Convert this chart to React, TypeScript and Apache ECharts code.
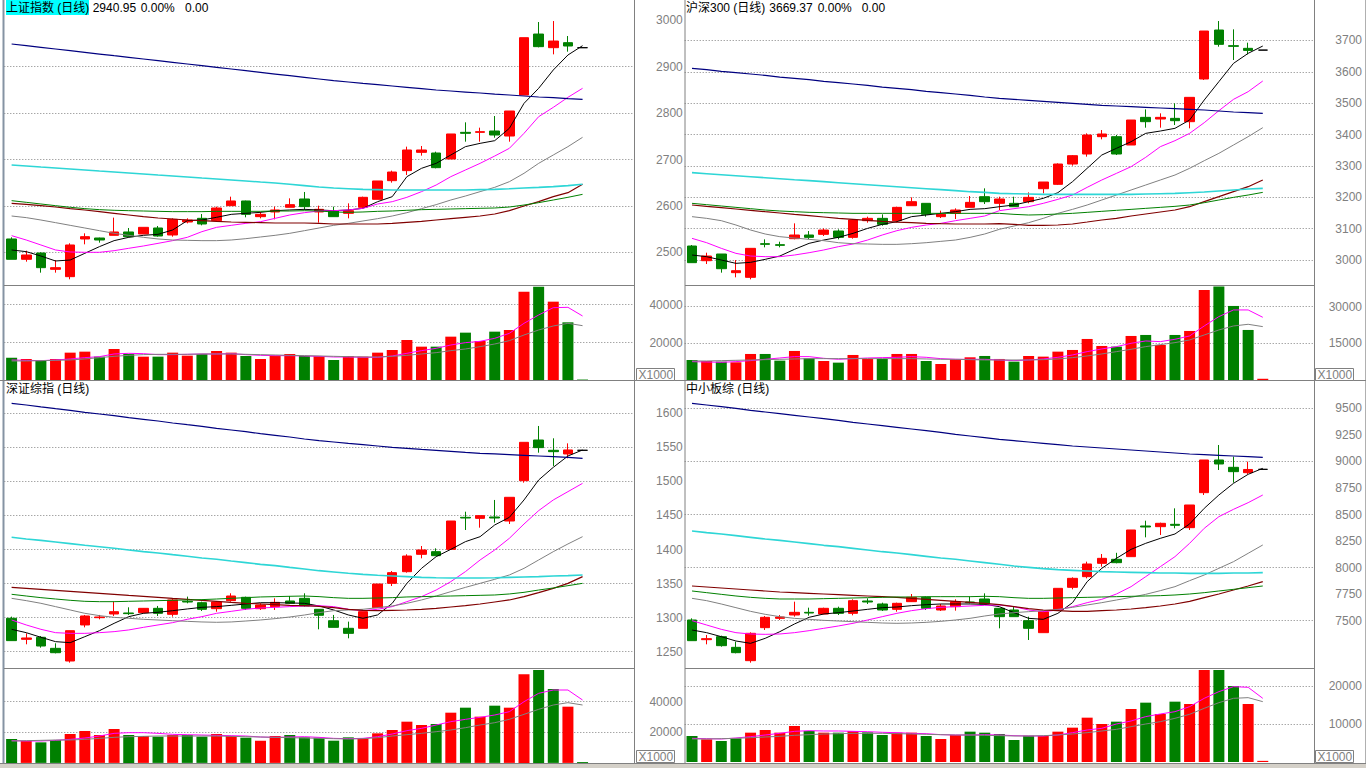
import { useEffect, useRef } from "react";
import * as echarts from "echarts";

const FONT = '"Liberation Sans", Arial, "Noto Sans CJK SC", sans-serif';
const RED = "#ff0000";
const GREEN = "#008000";
const GREY = "#808080";

const SLOT_COUNT = 43;
const CATEGORIES = Array.from({ length: SLOT_COUNT }, (_, i) => `D${i + 1}`);

// ---------- 上证指数 ----------
// [open, close, low, high]
const SH_CANDLES = [
  [2528.7, 2484.9, 2484.9, 2532.3], [2484.9, 2494.2, 2479.8, 2503.5], [2498.5, 2466.9, 2456.1, 2499.9],
  [2463.3, 2466.9, 2456.1, 2483.4], [2447.5, 2515.8, 2441.8, 2519.4], [2528.7, 2533.7, 2517.2, 2540.9],
  [2530.8, 2526.5, 2520.8, 2531.5], [2536.6, 2543.8, 2536.6, 2574.7], [2543.8, 2533.7, 2532.3, 2552.4],
  [2539.5, 2553.8, 2539.5, 2553.8], [2552.4, 2535.1, 2533.7, 2556.7], [2537.3, 2571.0, 2533.7, 2573.2],
  [2565.3, 2569.6, 2562.4, 2573.2], [2573.2, 2561.0, 2558.1, 2582.5], [2568.2, 2595.5, 2566.0, 2598.4],
  [2600.5, 2610.6, 2600.5, 2619.9], [2610.6, 2581.8, 2575.4, 2611.3], [2576.8, 2581.8, 2573.2, 2586.9],
  [2586.9, 2591.2, 2571.0, 2598.4], [2597.0, 2602.7, 2597.0, 2616.3], [2614.9, 2598.4, 2591.2, 2630.0],
  [2586.9, 2592.6, 2563.9, 2600.5], [2589.7, 2576.8, 2576.8, 2598.4], [2584.0, 2589.7, 2573.2, 2605.5],
  [2597.0, 2618.5, 2594.8, 2619.9], [2614.2, 2653.7, 2614.2, 2653.7], [2654.4, 2673.0, 2650.1, 2676.0],
  [2676.0, 2720.5, 2666.6, 2727.7], [2715.4, 2720.5, 2708.3, 2729.1], [2714.0, 2682.4, 2681.0, 2716.9],
  [2701.1, 2755.0, 2701.1, 2755.0], [2758.5, 2756.4, 2738.4, 2780.1], [2758.5, 2760.0, 2738.4, 2768.6],
  [2761.4, 2752.8, 2747.0, 2793.7], [2750.6, 2804.5, 2738.4, 2804.5], [2839.0, 2962.5, 2839.0, 2962.5],
  [2970.4, 2943.2, 2941.7, 2996.3], [2941.0, 2955.3, 2926.6, 2998.4], [2951.8, 2944.6, 2932.4, 2966.1],
  [2940.95, 2940.95, 2940.95, 2940.95],
];
const SH_MA5 = [2505, 2501.4, 2492, 2481.3, 2483.4, 2497.8, 2512.2, 2525.1, 2532.3, 2536.6, 2538.7, 2548.1, 2568.2, 2569.6, 2575.4, 2581.8, 2584, 2586.1, 2589.7, 2591.2, 2592.6, 2591.2, 2589.7, 2591.2, 2594.8, 2609.1, 2619.9, 2663, 2681, 2691.7, 2709.7, 2727.7, 2734.8, 2740.6, 2767.2, 2821, 2853.4, 2892.9, 2925.2, 2945.3];
const SH_MA10 = [2535.9, 2526.5, 2515.8, 2505, 2500.7, 2500, 2500, 2503.5, 2508.6, 2513.6, 2519.3, 2525.1, 2532.3, 2544.5, 2553.8, 2558.1, 2562.4, 2566, 2573.2, 2580.4, 2585.4, 2589, 2589.7, 2591.2, 2594.8, 2604.1, 2609.1, 2618.5, 2630.7, 2645, 2663, 2677.4, 2691.7, 2707.5, 2724.1, 2756.4, 2792.3, 2812.4, 2834, 2853.4];
const SH_MA20 = [2578.2, 2574.7, 2569.6, 2563.9, 2558.1, 2552.4, 2546.6, 2540.9, 2536.6, 2532.3, 2528.7, 2526.5, 2525.8, 2525.1, 2525.1, 2526.5, 2529.4, 2533, 2536.6, 2540.9, 2546.6, 2552.4, 2558.1, 2562.4, 2567.5, 2572.5, 2578.2, 2585.4, 2594.1, 2602.7, 2612.7, 2621.3, 2630.7, 2640, 2652.2, 2670.2, 2691.7, 2709.7, 2727.7, 2747.8];
const SH_MA30 = [2605.5, 2603.4, 2600.5, 2597.6, 2594.1, 2591.2, 2587.6, 2584, 2580.4, 2576.8, 2573.9, 2571.8, 2569.6, 2568.2, 2566.7, 2565.3, 2564.6, 2563.9, 2563.2, 2563.2, 2563.2, 2562.4, 2561, 2561, 2561, 2561, 2562.4, 2564.6, 2566.7, 2569.6, 2572.5, 2575.4, 2578.2, 2582.5, 2589.7, 2599.8, 2609.1, 2619.9, 2628.5, 2646.5];
const SH_MA60 = [2611.3, 2607.7, 2604.1, 2600.5, 2597, 2594.1, 2591.9, 2590.5, 2589.7, 2589, 2588.3, 2587.6, 2587.6, 2587.6, 2588.3, 2588.3, 2588.3, 2588.3, 2589, 2589, 2589.7, 2589, 2586.9, 2586.1, 2586.9, 2588.3, 2589, 2590.5, 2591.9, 2592.6, 2593.3, 2594.1, 2594.8, 2595.5, 2597.6, 2601.9, 2607, 2612.7, 2618.5, 2624.9];
const SH_MA120 = [2688.1, 2686, 2683.8, 2681.7, 2679.5, 2677.4, 2675.2, 2673.1, 2670.9, 2668.8, 2666.6, 2664.5, 2662.3, 2660.1, 2658, 2655.8, 2653.7, 2651.5, 2649.4, 2646.5, 2643.6, 2640.7, 2638.6, 2637.1, 2635.7, 2635, 2634.3, 2634.3, 2634.3, 2634.3, 2634.3, 2634.3, 2635, 2635.7, 2637.1, 2638.6, 2640, 2641.5, 2643.6, 2646.5];
const SH_MA250 = [2948.9, 2945.3, 2941.7, 2938.1, 2934.5, 2930.9, 2927.3, 2923.7, 2920.2, 2916.6, 2913, 2909.4, 2905.8, 2902.2, 2898.6, 2895, 2891.4, 2887.8, 2884.2, 2880.6, 2877.1, 2873.5, 2869.9, 2867, 2864.1, 2861.3, 2858.4, 2855.5, 2852.6, 2849.8, 2847.6, 2845.4, 2843.3, 2841.1, 2839, 2836.8, 2834.7, 2833.2, 2831.1, 2829.6];
const SH_VOLUME = [12027, 11325, 10448, 11325, 14658, 15184, 12553, 16588, 13956, 12553, 12553, 14658, 13080, 13956, 15535, 14658, 12904, 11325, 13080, 13956, 12904, 12904, 10799, 12904, 12553, 14658, 16061, 21323, 17815, 17815, 23077, 25182, 20797, 25708, 26585, 46756, 49387, 41494, 30619, 500];
const SH_VOL_MA5 = [10799, 10624, 10448, 10799, 11325, 12027, 12553, 13956, 14307, 14131, 13605, 13605, 13781, 13956, 13956, 14131, 13605, 13254, 13080, 13080, 12904, 12728, 12378, 12378, 12202, 12202, 12904, 14307, 15710, 16938, 18692, 19920, 20622, 22200, 24831, 30093, 34478, 38337, 38512, 33952];
const SH_VOL_MA10 = [10273, 10273, 10448, 10624, 10799, 11325, 12027, 12728, 13254, 13605, 13781, 13781, 13781, 13956, 13956, 13956, 13781, 13605, 13430, 13254, 13080, 12904, 12728, 12553, 12378, 12378, 12728, 13254, 13956, 14658, 15710, 16588, 17815, 19218, 20972, 23954, 26585, 28690, 30093, 28865];

// ---------- 沪深300 ----------
const HS_CANDLES = [
  [3044.6, 2991.5, 2991.5, 3047.8], [2997.8, 3012.7, 2987.2, 3023.3], [3019.1, 2972.3, 2959.6, 3019.1],
  [2959.6, 2965.9, 2944.7, 2999.9], [2944.7, 3037.2, 2938.3, 3037.2], [3052.0, 3050.0, 3040.4, 3065.9],
  [3048.9, 3046.7, 3040.4, 3058.4], [3068.0, 3079.7, 3065.9, 3116.9], [3079.7, 3072.2, 3066.9, 3092.4],
  [3081.8, 3095.6, 3076.5, 3100.9], [3092.4, 3072.2, 3065.9, 3097.8], [3072.2, 3127.5, 3068.0, 3129.6],
  [3125.4, 3132.8, 3119.0, 3138.2], [3132.8, 3113.7, 3109.4, 3145.6], [3125.4, 3167.9, 3120.1, 3170.0],
  [3173.2, 3186.0, 3173.2, 3199.8], [3180.7, 3145.6, 3138.2, 3180.7], [3138.2, 3145.6, 3133.9, 3157.3],
  [3148.8, 3159.4, 3130.7, 3164.7], [3167.9, 3183.8, 3167.9, 3204.0], [3201.9, 3186.0, 3178.5, 3228.5],
  [3180.7, 3194.5, 3159.4, 3201.9], [3180.7, 3170.0, 3170.0, 3201.9], [3186.0, 3199.8, 3180.7, 3215.7],
  [3227.4, 3248.7, 3212.6, 3248.7], [3241.3, 3306.1, 3239.1, 3308.2], [3306.1, 3332.7, 3300.8, 3334.8],
  [3338.0, 3398.6, 3329.5, 3403.9], [3393.3, 3401.8, 3384.8, 3414.5], [3393.3, 3338.0, 3334.8, 3398.6],
  [3366.7, 3446.4, 3366.7, 3446.4], [3454.9, 3441.1, 3422.0, 3480.4], [3449.6, 3454.9, 3422.0, 3467.7],
  [3451.7, 3444.3, 3430.5, 3499.6], [3441.1, 3518.7, 3419.9, 3518.7], [3577.2, 3730.2, 3574.0, 3730.2],
  [3733.4, 3687.7, 3680.3, 3762.1], [3683.5, 3681.3, 3637.8, 3735.6], [3675.0, 3668.5, 3655.8, 3693.0],
  [3669.37, 3669.37, 3669.37, 3669.37],
];
const HS_MA5 = [3015.9, 3010.6, 3000, 2989.3, 2992.5, 3002.1, 3012.7, 3034, 3053.1, 3063.7, 3072.2, 3085, 3100.9, 3113.7, 3122.2, 3138.2, 3143.5, 3148.8, 3154.1, 3161.5, 3163.7, 3170, 3175.4, 3186, 3196.6, 3214.7, 3249.8, 3292.3, 3334.8, 3356.1, 3377.3, 3403.9, 3411.3, 3419.9, 3446.4, 3510.2, 3568.7, 3627.1, 3659, 3682.4];
const HS_MA10 = [3069, 3055.2, 3037.2, 3021.2, 3012.7, 3010.6, 3010.6, 3015.9, 3023.3, 3031.9, 3042.5, 3051, 3063.7, 3079.7, 3093.5, 3104.1, 3111.6, 3116.9, 3125.4, 3132.8, 3140.3, 3157.3, 3163.7, 3170, 3180.7, 3193.4, 3207.2, 3231.7, 3255.1, 3276.3, 3297.6, 3327.4, 3361.4, 3380.5, 3403.9, 3437.9, 3476.2, 3512.3, 3536.8, 3570.8];
const HS_MA20 = [3138.2, 3132.8, 3125.4, 3111.6, 3095.6, 3082.9, 3074.4, 3070.1, 3065.9, 3061.6, 3055.2, 3052, 3051, 3049.9, 3049.9, 3052, 3055.2, 3059.5, 3063.7, 3072.2, 3082.9, 3097.8, 3108.4, 3119, 3132.8, 3148.8, 3161.5, 3175.4, 3191.3, 3207.2, 3223.2, 3239.1, 3255.1, 3271, 3292.3, 3316.7, 3340.1, 3366.7, 3393.3, 3422];
const HS_MA30 = [3175.4, 3171.1, 3166.9, 3162.7, 3158.4, 3154.1, 3149.9, 3145.6, 3141.4, 3137.1, 3132.8, 3129.6, 3126.4, 3123.3, 3121.1, 3119, 3116.9, 3115.8, 3114.8, 3114.8, 3114.8, 3115.8, 3113.7, 3110.5, 3110.5, 3111.6, 3114.8, 3121.1, 3127.5, 3132.8, 3140.3, 3146.7, 3153, 3159.4, 3170, 3186, 3201.9, 3217.9, 3233.8, 3255.1];
const HS_MA60 = [3180.7, 3176.4, 3172.2, 3167.9, 3163.7, 3159.4, 3156.3, 3154.1, 3152, 3150.9, 3149.9, 3148.8, 3148.8, 3148.8, 3148.8, 3148.8, 3148.8, 3148.8, 3148.8, 3148.8, 3148.8, 3148.8, 3145.6, 3143.5, 3144.6, 3146.7, 3148.8, 3152, 3155.2, 3158.4, 3161.5, 3164.7, 3167.9, 3171.1, 3175.4, 3182.8, 3191.3, 3199.8, 3207.2, 3215.7];
const HS_MA120 = [3278.5, 3275.3, 3272.1, 3268.9, 3265.7, 3262.5, 3259.3, 3256.1, 3253, 3249.8, 3246.6, 3243.4, 3240.2, 3237, 3233.8, 3230.6, 3227.4, 3224.3, 3221.1, 3217.9, 3215.7, 3212.6, 3211.5, 3210.4, 3209.4, 3209.4, 3209.4, 3209.4, 3209.4, 3209.4, 3209.4, 3210.4, 3211.5, 3212.6, 3214.7, 3216.8, 3220, 3223.2, 3226.4, 3228.5];
const HS_MA250 = [3611.2, 3606.9, 3601.6, 3597.4, 3593.1, 3588.9, 3583.5, 3579.3, 3575, 3569.7, 3565.5, 3561.2, 3557, 3551.6, 3547.4, 3543.1, 3537.8, 3533.6, 3529.4, 3525.1, 3519.8, 3515.5, 3512.3, 3509.1, 3505.9, 3502.8, 3499.6, 3496.4, 3493.2, 3491.1, 3488.9, 3486.8, 3484.7, 3482.6, 3480.4, 3478.3, 3475.1, 3471.9, 3469.8, 3467.7];
const HS_VOLUME = [8182, 7773, 7501, 7229, 10634, 10634, 7910, 11859, 8863, 7773, 7092, 10226, 8591, 8591, 10634, 10634, 7773, 6548, 8454, 9272, 9816, 8591, 7501, 9816, 9544, 11587, 12268, 16763, 13902, 13630, 17988, 18397, 14311, 18397, 20031, 36784, 38146, 30246, 20440, 500];
const HS_VOL_MA5 = [7501, 7365, 7229, 7501, 7910, 8454, 8999, 9544, 9544, 8863, 8454, 8726, 8999, 9135, 9272, 9544, 9272, 8726, 8454, 8454, 8454, 8182, 7910, 8182, 8591, 9272, 10226, 11587, 12676, 13630, 14992, 15945, 15673, 16627, 17988, 22074, 25888, 28612, 28612, 25616];
const HS_VOL_MA10 = [7773, 7773, 7910, 8046, 8182, 8318, 8454, 8591, 8726, 8726, 8726, 8726, 8726, 8726, 8726, 8726, 8591, 8454, 8454, 8318, 8182, 8182, 8182, 8182, 8318, 8591, 9135, 9816, 10634, 11587, 12540, 13630, 14447, 15265, 16354, 18397, 20440, 22074, 22755, 21802];

// ---------- 深证综指 ----------
const SZ_CANDLES = [
  [1299.1, 1266.3, 1266.3, 1301.5], [1268.2, 1270.2, 1260.9, 1277.0], [1271.2, 1258.4, 1256.0, 1273.1],
  [1255.0, 1248.6, 1247.6, 1262.4], [1236.4, 1280.9, 1234.0, 1280.9], [1289.3, 1302.5, 1285.8, 1304.0],
  [1300.0, 1301.0, 1297.6, 1304.0], [1305.4, 1308.8, 1302.5, 1323.5], [1306.9, 1305.9, 1304.0, 1315.2],
  [1307.4, 1313.7, 1306.4, 1314.2], [1313.7, 1306.4, 1302.5, 1317.2], [1304.9, 1326.0, 1301.5, 1328.4],
  [1324.0, 1323.0, 1321.1, 1330.9], [1322.0, 1312.3, 1309.8, 1323.5], [1313.2, 1323.0, 1308.8, 1324.5],
  [1325.0, 1331.8, 1323.5, 1335.8], [1329.9, 1313.7, 1311.3, 1330.9], [1313.2, 1318.6, 1311.3, 1321.1],
  [1316.2, 1322.5, 1311.3, 1328.4], [1324.5, 1321.1, 1320.1, 1331.8], [1328.4, 1317.2, 1316.2, 1335.8],
  [1312.3, 1303.5, 1282.9, 1312.3], [1295.6, 1285.8, 1285.8, 1304.0], [1284.4, 1277.0, 1269.7, 1294.2],
  [1284.4, 1308.8, 1284.4, 1308.8], [1314.7, 1349.4, 1314.7, 1349.4], [1350.4, 1366.1, 1346.5, 1368.5],
  [1367.5, 1390.5, 1366.1, 1393.0], [1393.0, 1399.4, 1387.1, 1405.2], [1396.9, 1391.0, 1391.0, 1401.8],
  [1400.3, 1441.9, 1400.3, 1441.9], [1447.3, 1446.3, 1428.7, 1455.6], [1445.8, 1449.8, 1432.1, 1449.8],
  [1447.8, 1446.3, 1439.5, 1472.8], [1441.9, 1476.7, 1437.5, 1476.7], [1501.1, 1557.4, 1498.2, 1557.4],
  [1560.8, 1549.6, 1542.2, 1581.4], [1545.7, 1543.7, 1522.7, 1563.3], [1540.3, 1546.2, 1533.9, 1555.9],
  [1545.7, 1545.7, 1545.7, 1545.7],
];
const SZ_MA5 = [1282.9, 1278, 1271.2, 1264.8, 1263.3, 1272.1, 1280.9, 1291.7, 1301.5, 1306.4, 1307.9, 1310.3, 1312.8, 1315.2, 1316.2, 1318.1, 1320.1, 1322, 1322, 1321.6, 1321.1, 1317.2, 1311.3, 1304, 1299.1, 1304, 1321.1, 1350.4, 1372.4, 1389.6, 1400.3, 1411.6, 1418.9, 1436.1, 1447.3, 1472.8, 1502.1, 1520.7, 1537.3, 1546.2];
const SZ_MA10 = [1296.6, 1289.3, 1282.9, 1278, 1277, 1277, 1278, 1279.5, 1282, 1285.8, 1289.3, 1292.7, 1297.6, 1301.5, 1306.4, 1309.3, 1312.3, 1314.2, 1315.2, 1316.2, 1317.2, 1317.6, 1316.2, 1312.3, 1310.3, 1312.3, 1316.2, 1323.5, 1330.9, 1340.6, 1352.9, 1367.6, 1384.7, 1399.4, 1416.5, 1437.5, 1457.1, 1472.8, 1485, 1497.2];
const SZ_MA20 = [1328.4, 1325, 1321.1, 1316.2, 1311.3, 1306.4, 1303, 1300.5, 1299.1, 1297.6, 1296.6, 1295.6, 1294.6, 1293.7, 1293.2, 1293.7, 1295.1, 1296.6, 1298.6, 1301, 1303.9, 1307.4, 1310.3, 1311.3, 1312.3, 1314.7, 1317.2, 1321.1, 1326, 1331.8, 1338.2, 1344.5, 1350.4, 1356.3, 1362.7, 1372.4, 1384.7, 1396.9, 1408.2, 1418.9];
const SZ_MA30 = [1344.6, 1343.1, 1341.6, 1340.2, 1338.7, 1337.2, 1335.8, 1334.3, 1332.8, 1331.4, 1329.9, 1328.4, 1327, 1325.5, 1324, 1322.5, 1321.1, 1320.1, 1319.1, 1318.1, 1317.6, 1316.7, 1314.7, 1312.3, 1310.8, 1310.3, 1310.8, 1311.3, 1312.3, 1313.7, 1315.7, 1317.6, 1320.1, 1323, 1326, 1330.9, 1336.7, 1343.1, 1350.4, 1360.2];
const SZ_MA60 = [1334.3, 1331.8, 1329.4, 1327.4, 1325.5, 1324, 1323.5, 1323.5, 1324, 1324.5, 1325, 1325.5, 1326, 1326.5, 1327.4, 1328.4, 1329.4, 1330.4, 1330.9, 1331.4, 1331.8, 1330.9, 1329.4, 1328.4, 1328.4, 1328.9, 1329.4, 1330.4, 1330.9, 1331.4, 1331.8, 1332.3, 1332.8, 1333.3, 1334.8, 1337.2, 1340.6, 1343.6, 1347, 1350.4];
const SZ_MA120 = [1418, 1415.5, 1413.5, 1411.1, 1408.7, 1406.2, 1404.2, 1401.8, 1399.4, 1396.9, 1395, 1392.5, 1390.1, 1387.6, 1385.7, 1383.2, 1380.8, 1378.3, 1376.4, 1373.9, 1371.5, 1369, 1367.1, 1365.1, 1363.6, 1362.2, 1361.2, 1360.2, 1359.2, 1358.7, 1358.3, 1358.3, 1358.3, 1358.7, 1359.2, 1359.7, 1360.2, 1361.2, 1361.7, 1362.7];
const SZ_MA250 = [1614.6, 1612.2, 1609.3, 1606.8, 1604.4, 1601.4, 1599, 1596.5, 1593.6, 1591.2, 1588.7, 1585.8, 1583.3, 1580.9, 1577.9, 1575.5, 1573.1, 1570.1, 1567.7, 1565.2, 1562.3, 1559.8, 1557.9, 1555.9, 1554, 1552, 1550.1, 1548.6, 1547.1, 1545.7, 1544.2, 1542.7, 1541.3, 1540.3, 1539.3, 1538.3, 1537.3, 1536.4, 1535.4, 1533.9];
const SZ_VOLUME = [15613, 14306, 13434, 14960, 18881, 20843, 18228, 22150, 18228, 17574, 17138, 18228, 18228, 17138, 18881, 17574, 16485, 14524, 17574, 18228, 16703, 16485, 14524, 16703, 16049, 19317, 21496, 26944, 24765, 25418, 32827, 36095, 30212, 37402, 36095, 57885, 60718, 48298, 36749, 600];
const SZ_VOL_MA5 = [14523, 14305, 14305, 14741, 15395, 16266, 17574, 19317, 19753, 19753, 19317, 18663, 18446, 18228, 18010, 17792, 17574, 16920, 16703, 16920, 17138, 16703, 16049, 15831, 16049, 17138, 18881, 21060, 22585, 24765, 26944, 28469, 29776, 31302, 33480, 40018, 45465, 47644, 47644, 41107];
const SZ_VOL_MA10 = [14305, 14523, 14741, 14959, 14959, 15395, 16049, 16703, 17138, 17356, 17574, 17574, 17574, 17574, 17574, 17356, 17138, 16920, 16703, 16485, 16266, 16049, 15831, 15613, 15831, 16485, 17574, 18446, 19317, 20407, 21496, 23022, 24765, 26290, 28469, 31738, 35006, 37839, 39365, 37839];

// ---------- 中小板综 ----------
const ZX_CANDLES = [
  [7506.6, 7312.0, 7312.0, 7522.3], [7321.4, 7330.9, 7277.5, 7365.4], [7349.7, 7264.9, 7255.5, 7359.1],
  [7249.2, 7199.0, 7192.7, 7302.6], [7123.7, 7381.1, 7104.9, 7390.5], [7434.4, 7531.8, 7412.5, 7544.3],
  [7522.3, 7534.9, 7506.6, 7553.7], [7553.7, 7578.8, 7538.0, 7679.1], [7578.8, 7572.5, 7547.4, 7622.7],
  [7563.1, 7616.5, 7560.0, 7622.7], [7616.5, 7569.4, 7553.7, 7632.2], [7569.4, 7688.6, 7550.6, 7701.2],
  [7685.5, 7676.1, 7657.3, 7710.6], [7657.3, 7600.8, 7591.3, 7669.8], [7607.1, 7663.6, 7585.1, 7669.8],
  [7679.2, 7720.0, 7676.1, 7751.4], [7720.0, 7616.5, 7600.8, 7726.3], [7600.8, 7638.4, 7591.3, 7657.3],
  [7632.2, 7679.2, 7594.5, 7701.2], [7676.1, 7669.8, 7663.6, 7726.3], [7704.4, 7657.3, 7647.9, 7757.7],
  [7616.5, 7538.0, 7428.2, 7616.5], [7600.8, 7538.0, 7538.0, 7632.2], [7500.3, 7428.2, 7318.3, 7538.0],
  [7387.4, 7585.1, 7387.4, 7585.1], [7607.1, 7804.8, 7607.1, 7804.8], [7814.2, 7898.9, 7795.4, 7908.3],
  [7914.6, 8033.9, 7898.9, 8055.9], [8040.2, 8087.3, 8008.8, 8128.1], [8077.9, 8046.5, 8040.2, 8139.3],
  [8103.0, 8354.1, 8103.0, 8354.1], [8391.7, 8382.3, 8285.0, 8441.9], [8385.5, 8416.9, 8307.0, 8423.2],
  [8407.5, 8398.1, 8369.8, 8558.1], [8376.1, 8589.5, 8354.1, 8589.5], [8705.6, 9013.2, 8683.6, 9013.2],
  [9013.2, 8975.6, 8919.1, 9154.5], [8944.2, 8903.4, 8799.8, 9044.6], [8894.0, 8924.0, 8881.4, 8997.5],
  [8925.3, 8925.3, 8925.3, 8925.3],
];
const ZX_MA5 = [7412.5, 7387.4, 7349.7, 7308.9, 7286.9, 7334, 7396.8, 7469, 7531.8, 7563.1, 7575.7, 7591.3, 7607.1, 7622.7, 7629, 7641.6, 7651, 7657.3, 7657.3, 7657.3, 7654.2, 7632.2, 7575.7, 7522.3, 7512.9, 7569.4, 7669.8, 7867.6, 7993.1, 8087.3, 8171.8, 8228.5, 8275.6, 8316.4, 8410.6, 8558.1, 8683.6, 8793.5, 8878.3, 8934.8];
const ZX_MA10 = [7500.3, 7459.5, 7418.7, 7387.4, 7374.8, 7371.6, 7374.8, 7387.4, 7406.2, 7428.2, 7450.2, 7475.3, 7506.6, 7538, 7569.4, 7594.5, 7613.3, 7625.9, 7632.2, 7638.5, 7644.7, 7647.9, 7632.2, 7600.8, 7585.1, 7600.8, 7632.2, 7669.8, 7701.2, 7751.4, 7820.5, 7914.6, 8008.8, 8103, 8228.5, 8369.8, 8479.6, 8548.7, 8611.5, 8683.6];
const ZX_MA20 = [7710.6, 7688.6, 7657.3, 7622.7, 7588.2, 7560, 7538, 7522.3, 7512.9, 7503.5, 7497.2, 7490.9, 7484.6, 7478.4, 7475.3, 7478.4, 7484.6, 7494, 7506.6, 7522.3, 7544.3, 7563.1, 7575.7, 7585.1, 7594.5, 7607.1, 7625.9, 7647.9, 7669.8, 7694.9, 7720, 7748.3, 7782.8, 7820.5, 7877, 7930.4, 7993.1, 8055.9, 8134.4, 8213];
const ZX_MA30 = [7826.8, 7817.4, 7808, 7798.6, 7789.1, 7779.7, 7770.3, 7764, 7757.7, 7751.4, 7745.2, 7738.9, 7732.6, 7726.3, 7720, 7710.6, 7701.2, 7691.8, 7682.4, 7673, 7663.6, 7651, 7632.2, 7613.3, 7600.8, 7594.5, 7588.2, 7588.2, 7594.5, 7600.8, 7610.2, 7622.7, 7638.5, 7657.3, 7682.4, 7716.9, 7751.4, 7789.1, 7826.8, 7867.6];
const ZX_MA60 = [7779.7, 7764, 7748.3, 7732.6, 7720, 7710.6, 7704.4, 7704.4, 7704.4, 7707.5, 7710.6, 7713.8, 7716.9, 7720, 7723.2, 7723.2, 7726.3, 7726.3, 7726.3, 7726.3, 7729.5, 7726.3, 7716.9, 7710.6, 7710.6, 7713.8, 7716.9, 7720, 7723.2, 7726.3, 7729.5, 7732.6, 7735.7, 7742, 7751.4, 7764, 7779.7, 7795.4, 7811.1, 7826.8];
const ZX_MA120 = [8344.7, 8329, 8316.4, 8300.7, 8285, 8269.3, 8256.7, 8241, 8225.4, 8209.7, 8197.1, 8181.4, 8165.7, 8150, 8137.5, 8121.8, 8106.1, 8090.4, 8077.9, 8062.2, 8046.5, 8030.8, 8015.1, 8002.5, 7990, 7980.6, 7974.3, 7968, 7961.8, 7958.6, 7955.5, 7952.3, 7949.2, 7949.2, 7946, 7946, 7946, 7949.2, 7949.2, 7952.3];
const ZX_MA250 = [9546.8, 9531.1, 9515.4, 9499.7, 9480.9, 9465.2, 9449.5, 9433.8, 9418.1, 9402.4, 9386.7, 9367.9, 9352.2, 9336.5, 9320.8, 9305.1, 9289.4, 9273.7, 9254.9, 9239.2, 9223.5, 9207.8, 9195.3, 9182.7, 9170.1, 9157.6, 9145, 9135.6, 9126.2, 9116.8, 9107.4, 9097.9, 9088.5, 9079.1, 9069.7, 9063.4, 9057.1, 9050.9, 9044.6, 9038.3];
const ZX_VOLUME = [6879, 6000, 5556, 6262, 7761, 8467, 7761, 9525, 8202, 7761, 7761, 8202, 7850, 7144, 7761, 7761, 6879, 6086, 7144, 8026, 7761, 7409, 5821, 6968, 6879, 8026, 9084, 11730, 10054, 10672, 14024, 15699, 12701, 15964, 15347, 24343, 24343, 20109, 15347, 300];
const ZX_VOL_MA5 = [6262, 6174, 6086, 6350, 6703, 7144, 7585, 8114, 8291, 8202, 8202, 8114, 8026, 7850, 7761, 7585, 7497, 7232, 7144, 7144, 7232, 7144, 6968, 6879, 6879, 7144, 7761, 8467, 8908, 10054, 10849, 12005, 12701, 13318, 14641, 16846, 18610, 19933, 19757, 16846];
const ZX_VOL_MA10 = [6086, 6086, 6174, 6262, 6438, 6615, 6791, 7056, 7232, 7409, 7497, 7585, 7585, 7585, 7497, 7409, 7321, 7232, 7144, 7144, 7056, 6968, 6879, 6879, 6968, 7144, 7409, 7761, 8202, 8643, 9349, 10054, 10672, 11554, 12612, 14200, 15699, 16846, 17022, 15964];

// MA line styles: 5, 10, 20, 30, 60, 120, 250
const MA_COLORS = ["#000000", "#ff00ff", "#808080", "#800000", "#008000", "#2ed6d6", "#000080"];
const MA_WIDTHS = [1, 1, 1, 1.2, 1, 1.6, 1.2];

type Panel = {
  candles: number[][];
  mas: number[][];
  volume: number[];
  volMa5: number[];
  volMa10: number[];
  left: number;
  width: number;
  labelMargin: number;
  priceTop: number;
  priceHeight: number;
  priceMin: number;
  priceMax: number;
  labelInterval: number;
  lineInterval: number;
  showMaxLabel: boolean;
  labelRange: [number, number];
  volTop: number;
  volHeight: number;
  volMax: number;
  volInterval: number;
};

const LEFT_X = 4.3;
const LEFT_W = 629.5;
const RIGHT_X = 684.7;
const RIGHT_W = 629.3;

const PANELS: Panel[] = [
  {
    candles: SH_CANDLES, mas: [SH_MA5, SH_MA10, SH_MA20, SH_MA30, SH_MA60, SH_MA120, SH_MA250],
    volume: SH_VOLUME, volMa5: SH_VOL_MA5, volMa10: SH_VOL_MA10,
    left: LEFT_X, width: LEFT_W, labelMargin: 49,
    priceTop: 20.3, priceHeight: 278.4, priceMin: 2400, priceMax: 3000, labelInterval: 100, lineInterval: 100,
    showMaxLabel: true, labelRange: [2500, 3000],
    volTop: 285.5, volHeight: 95, volMax: 50000, volInterval: 20000,
  },
  {
    candles: HS_CANDLES, mas: [HS_MA5, HS_MA10, HS_MA20, HS_MA30, HS_MA60, HS_MA120, HS_MA250],
    volume: HS_VOLUME, volMa5: HS_VOL_MA5, volMa10: HS_VOL_MA10,
    left: RIGHT_X, width: RIGHT_W, labelMargin: 48,
    priceTop: 9.14, priceHeight: 282.22, priceMin: 2900, priceMax: 3800, labelInterval: 100, lineInterval: 100,
    showMaxLabel: false, labelRange: [3000, 3700],
    volTop: 285.5, volHeight: 94.5, volMax: 38600, volInterval: 15000,
  },
  {
    candles: SZ_CANDLES, mas: [SZ_MA5, SZ_MA10, SZ_MA20, SZ_MA30, SZ_MA60, SZ_MA120, SZ_MA250],
    volume: SZ_VOLUME, volMa5: SZ_VOL_MA5, volMa10: SZ_VOL_MA10,
    left: LEFT_X, width: LEFT_W, labelMargin: 49,
    priceTop: 379.24, priceHeight: 306.56, priceMin: 1200, priceMax: 1650, labelInterval: 50, lineInterval: 50,
    showMaxLabel: false, labelRange: [1250, 1600],
    volTop: 671.1, volHeight: 91.8, volMax: 60000, volInterval: 20000,
  },
  {
    candles: ZX_CANDLES, mas: [ZX_MA5, ZX_MA10, ZX_MA20, ZX_MA30, ZX_MA60, ZX_MA120, ZX_MA250],
    volume: ZX_VOLUME, volMa5: ZX_VOL_MA5, volMa10: ZX_VOL_MA10,
    left: RIGHT_X, width: RIGHT_W, labelMargin: 48,
    priceTop: 381.75, priceHeight: 292.05, priceMin: 7000, priceMax: 9750, labelInterval: 250, lineInterval: 500,
    showMaxLabel: false, labelRange: [7500, 9500],
    volTop: 668.5, volHeight: 93.5, volMax: 24735, volInterval: 10000,
  },
];

const HEADERS = [
  { x: 6, y: 1.5, title: "上证指数 (日线)", quote: ["2940.95", "0.00%", "0.00"], quoteX: [92.7, 140.7, 185], highlight: true },
  { x: 686, y: 1.5, title: "沪深300 (日线)", quote: ["3669.37", "0.00%", "0.00"], quoteX: [769.3, 817.7, 861.7], highlight: false },
  { x: 6, y: 383, title: "深证综指 (日线)", quote: [], quoteX: [], highlight: false },
  { x: 686, y: 383, title: "中小板综 (日线)", quote: [], quoteX: [], highlight: false },
];

function splitLineStyle() {
  return { show: true, showMinLine: false, showMaxLine: false, lineStyle: { color: GREY, width: 1, type: [1, 2] } };
}

function labelAxis(gridIndex: number, min: number, max: number, interval: number, margin: number, showMax: boolean, range: [number, number]) {
  return {
    type: "value", gridIndex, position: "right", min, max, interval,
    axisLine: { show: false }, axisTick: { show: false }, splitLine: { show: false },
    axisLabel: {
      show: true, margin, align: "right", color: GREY, fontSize: 12, fontFamily: FONT,
      showMinLabel: false, showMaxLabel: showMax,
      formatter: (v: number) => (v >= range[0] - 1e-6 && v <= range[1] + 1e-6 ? String(v) : ""),
    },
  };
}

function lineAxis(gridIndex: number, min: number, max: number, interval: number) {
  return {
    type: "value", gridIndex, position: "right", min, max, interval,
    axisLine: { show: false }, axisTick: { show: false }, axisLabel: { show: false },
    splitLine: splitLineStyle(),
  };
}

function buildOption() {
  const grid: any[] = [];
  const xAxis: any[] = [];
  const yAxis: any[] = [];
  const series: any[] = [];

  PANELS.forEach((p) => {
    const gP = grid.length;
    grid.push({ left: p.left, top: p.priceTop, width: p.width, height: p.priceHeight, outerBoundsMode: "none", containLabel: false });
    const gV = grid.length;
    grid.push({ left: p.left, top: p.volTop, width: p.width, height: p.volHeight, outerBoundsMode: "none", containLabel: false });
    xAxis.push({ type: "category", gridIndex: gP, data: CATEGORIES, boundaryGap: true, show: false });
    xAxis.push({ type: "category", gridIndex: gV, data: CATEGORIES, boundaryGap: true, show: false });

    const yP = yAxis.length;
    yAxis.push(labelAxis(gP, p.priceMin, p.priceMax, p.labelInterval, p.labelMargin, p.showMaxLabel, p.labelRange));
    yAxis.push(lineAxis(gP, p.priceMin, p.priceMax, p.lineInterval));
    const yV = yAxis.length;
    yAxis.push(labelAxis(gV, 0, p.volMax, p.volInterval, p.labelMargin, false, [1, p.volMax - 1]));
    yAxis.push(lineAxis(gV, 0, p.volMax, p.volInterval));

    series.push({
      type: "candlestick", xAxisIndex: gP, yAxisIndex: yP, data: p.candles, barWidth: 10, silent: true,
      itemStyle: { color: RED, color0: GREEN, borderColor: RED, borderColor0: GREEN, borderColorDoji: "#000000", borderWidth: 1 },
    });
    p.mas.forEach((ma, k) => {
      series.push({
        type: "line", xAxisIndex: gP, yAxisIndex: yP, data: ma, showSymbol: false, symbol: "none", silent: true,
        lineStyle: { color: MA_COLORS[k], width: MA_WIDTHS[k] }, z: 3,
      });
    });

    const volData = p.volume.map((v, i) => {
      const [o, c] = p.candles[i];
      let up = c > o;
      if (c === o) up = i > 0 ? c >= p.candles[i - 1][1] : true;
      return { value: v, itemStyle: { color: up ? RED : GREEN } };
    });
    series.push({ type: "bar", xAxisIndex: gV, yAxisIndex: yV, data: volData, barWidth: 11, clip: false, silent: true });
    series.push({
      type: "line", xAxisIndex: gV, yAxisIndex: yV, data: p.volMa5, showSymbol: false, symbol: "none", silent: true,
      lineStyle: { color: "#ff00ff", width: 1 }, z: 3,
    });
    series.push({
      type: "line", xAxisIndex: gV, yAxisIndex: yV, data: p.volMa10, showSymbol: false, symbol: "none", silent: true,
      lineStyle: { color: GREY, width: 1 }, z: 3,
    });
  });

  const graphic: any[] = [];
  const line = (x1: number, y1: number, x2: number, y2: number, stroke = GREY) =>
    graphic.push({ type: "line", silent: true, z: 10, shape: { x1, y1, x2, y2 }, style: { stroke, lineWidth: 1 } });

  // panel frames
  graphic.push({ type: "rect", silent: true, z: 10, shape: { x: 2.5, y: 0, width: 2, height: 764 }, style: { fill: "#8593a3" } });
  line(634.5, 0, 634.5, 764);
  line(685, 0, 685, 764);
  line(1314.5, 0, 1314.5, 764);
  line(1365.5, 0, 1365.5, 764, "#b0b0b0");
  line(4, 285.5, 634.5, 285.5);
  line(685, 285.5, 1314.5, 285.5);
  line(0, 380.5, 1366, 380.5);
  line(4, 668.5, 634.5, 668.5);
  line(685, 668.5, 1314.5, 668.5);
  line(0, 763.5, 1366, 763.5);
  graphic.push({ type: "rect", silent: true, z: 9, shape: { x: 0, y: 764, width: 1366, height: 4 }, style: { fill: "#d4d0c8" } });

  // X1000 unit boxes
  [[636.5, 368.5], [1315.5, 368.5], [636.5, 750.5], [1315.5, 750.5]].forEach(([bx, by]) => {
    graphic.push({ type: "rect", silent: true, z: 11, shape: { x: bx, y: by, width: 38, height: 12 }, style: { fill: "#ffffff", stroke: GREY, lineWidth: 1 } });
    graphic.push({ type: "text", silent: true, z: 12, x: bx + 2, y: by + 0.5, style: { text: "X1000", fill: GREY, fontSize: 12, fontFamily: FONT, verticalAlign: "top", align: "left" } });
  });

  // headers
  HEADERS.forEach((h) => {
    if (h.highlight) {
      graphic.push({ type: "rect", silent: true, z: 11, shape: { x: 6, y: 0, width: 83, height: 15 }, style: { fill: "#00ffff" } });
    }
    graphic.push({ type: "text", silent: true, z: 12, x: h.x, y: h.y, style: { text: h.title, fill: "#000000", fontSize: 12, fontFamily: FONT, verticalAlign: "top", align: "left" } });
    h.quote.forEach((q, i) => {
      graphic.push({ type: "text", silent: true, z: 12, x: h.quoteX[i], y: h.y, style: { text: q, fill: "#000000", fontSize: 12, fontFamily: FONT, verticalAlign: "top", align: "left" } });
    });
  });

  return { animation: false, backgroundColor: "#ffffff", grid, xAxis, yAxis, series, graphic };
}

export default function App() {
  const ref = useRef<HTMLDivElement>(null);
  useEffect(() => {
    document.body.style.margin = "0";
    const chart = echarts.init(ref.current!, undefined, { renderer: "svg", width: 1366, height: 768 });
    chart.setOption(buildOption() as any);
    return () => chart.dispose();
  }, []);
  return <div ref={ref} style={{ position: "absolute", left: 0, top: 0, width: 1366, height: 768 }} />;
}
